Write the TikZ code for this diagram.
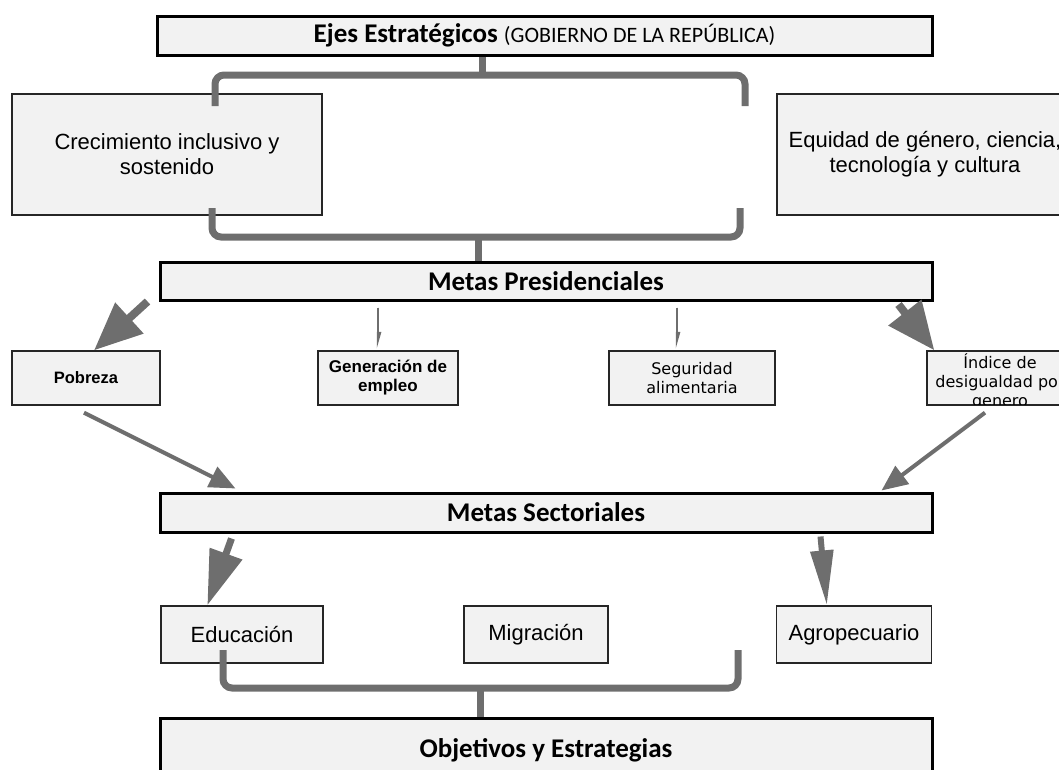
\documentclass[tikz,border=0pt]{standalone}
\usepackage{fontspec}
\setmainfont{Liberation Sans}
\newfontfamily\calfont{Carlito}
\newfontfamily\dvfont{DejaVu Sans}
\usetikzlibrary{arrows.meta,calc}
\definecolor{boxfill}{HTML}{F2F2F2}
\definecolor{linegray}{HTML}{6E6E6E}
\begin{document}
\begin{tikzpicture}[x=1pt,y=-1pt,
  bigbox/.style={draw=black, line width=3pt, fill=boxfill, inner sep=0pt, align=center, font=\calfont\fontsize{27}{31}\selectfont\bfseries},
  midbox/.style={draw=black!85, line width=1.3pt, fill=boxfill, inner sep=0pt, align=center, font=\fontsize{22}{25}\selectfont},
  smallbox/.style={draw=black!85, line width=1.3pt, fill=boxfill, inner sep=0pt, align=center},
  brace/.style={draw=linegray, line width=7pt, rounded corners=9pt},
  fatarrow/.style={draw=linegray, fill=linegray, line width=8pt, -{Triangle[length=48pt,width=40pt]}},
  medarrow/.style={draw=linegray, fill=linegray, line width=4pt, -{Triangle[length=26pt,width=22pt]}},
  thinarrow/.style={draw=linegray, fill=linegray, line width=2.5pt, -{Triangle[length=13pt,width=6pt,left]}}
]
\useasboundingbox (0,0) rectangle (1059,769);

% boxes
\node[bigbox, minimum width=775pt, minimum height=39pt] (ejes) at (544.5,35.5)
  {Ejes Estratégicos {\mdseries\fontsize{22}{25}\selectfont (GOBIERNO DE LA REPÚBLICA)}};
\node[midbox, minimum width=310pt, minimum height=121pt] (crec) at (167,154.5)
  {Crecimiento inclusivo y\\sostenido};
\node[midbox, minimum width=296pt, minimum height=121pt] (equi) at (925,154.5)
  {Equidad de género, ciencia,\\tecnología y cultura};
\node[bigbox, minimum width=772pt, minimum height=38pt] (mp) at (546,281) {Metas Presidenciales};

\node[smallbox, minimum width=148pt, minimum height=54pt, font=\fontsize{16.5}{19}\selectfont\bfseries] (pob) at (86,378) {Pobreza};
\node[smallbox, minimum width=140pt, minimum height=54pt, font=\fontsize{17}{19}\selectfont\bfseries] (gen) at (388,378) {Generación de\\empleo};
\node[smallbox, minimum width=166pt, minimum height=54pt, font=\dvfont\fontsize{16}{19}\selectfont] (seg) at (692,378) {Seguridad\\alimentaria};
\node[smallbox, minimum width=146pt, minimum height=54pt] (ind) at (1000,378) {};
\begin{scope}
  \clip (ind.north west) rectangle (ind.south east);
  \node[align=center, inner sep=0pt, font=\dvfont\fontsize{16}{19}\selectfont, anchor=north] (indt) at ($(ind.north)+(0,3)$) {Índice de\\desigualdad por\\genero};
\end{scope}
\draw[draw=black!85, line width=1.3pt] (ind.north west) rectangle (ind.south east);

\node[bigbox, minimum width=772pt, minimum height=39pt] (ms) at (546,512.5) {Metas Sectoriales};

\node[midbox, minimum width=162pt, minimum height=57pt] (edu) at (242,634.5) {Educación};
\node[midbox, minimum width=144pt, minimum height=57pt] (mig) at (536,634.5) {Migración};
\node[midbox, minimum width=155pt, minimum height=57pt] (agro) at (854,634.5) {Agropecuario};

\node[bigbox, minimum width=772pt, minimum height=64pt] (obj) at (546,750) {Objetivos y Estrategias};

% braces
\coordinate (b1) at (482,75);
\draw[brace] (215,106) |- (b1) -| (745,106);
\draw[brace, rounded corners=0pt] (b1) -- (ejes.south -| b1);
\coordinate (b2) at (478,237);
\draw[brace] (212,208) |- (b2) -| (740,208);
\draw[brace, rounded corners=0pt] (b2) -- (mp.north -| b2);
\coordinate (b3) at (480,688);
\draw[brace] (223,650) |- (b3) -| (738,650);
\draw[brace, rounded corners=0pt] (b3) -- (obj.north -| b3);

% arrows
\draw[fatarrow] ($(mp.south west)+(-11,0)$) -- ($(pob.north)+(8,0)$);
\draw[thinarrow] ($(gen.north |- mp.south)+(-10,6)$) -- ($(gen.north)+(-10,0)$);
\draw[thinarrow] ($(seg.north |- mp.south)+(-15,6)$) -- ($(seg.north)+(-15,0)$);
\draw[fatarrow] ($(mp.south east)+(-35,3)$) -- ($(ind.north west)+(8,0)$);

\draw[medarrow] ($(pob.south)+(-2,7)$) -- ($(ms.north west)+(77,-3)$);
\draw[medarrow] ($(ind.south)+(-15,7)$) -- ($(ms.north east)+(-52,-1)$);

\draw[fatarrow, line width=7pt, -{Triangle[length=55pt,width=33pt]}] ($(ms.south west)+(73,5)$) -- ($(edu.north west)+(47,0)$);
\draw[fatarrow, line width=6pt, -{Triangle[length=55pt,width=22pt]}] ($(ms.south east)+(-113,3)$) -- ($(agro.north west)+(51,0)$);
\end{tikzpicture}
\end{document}
